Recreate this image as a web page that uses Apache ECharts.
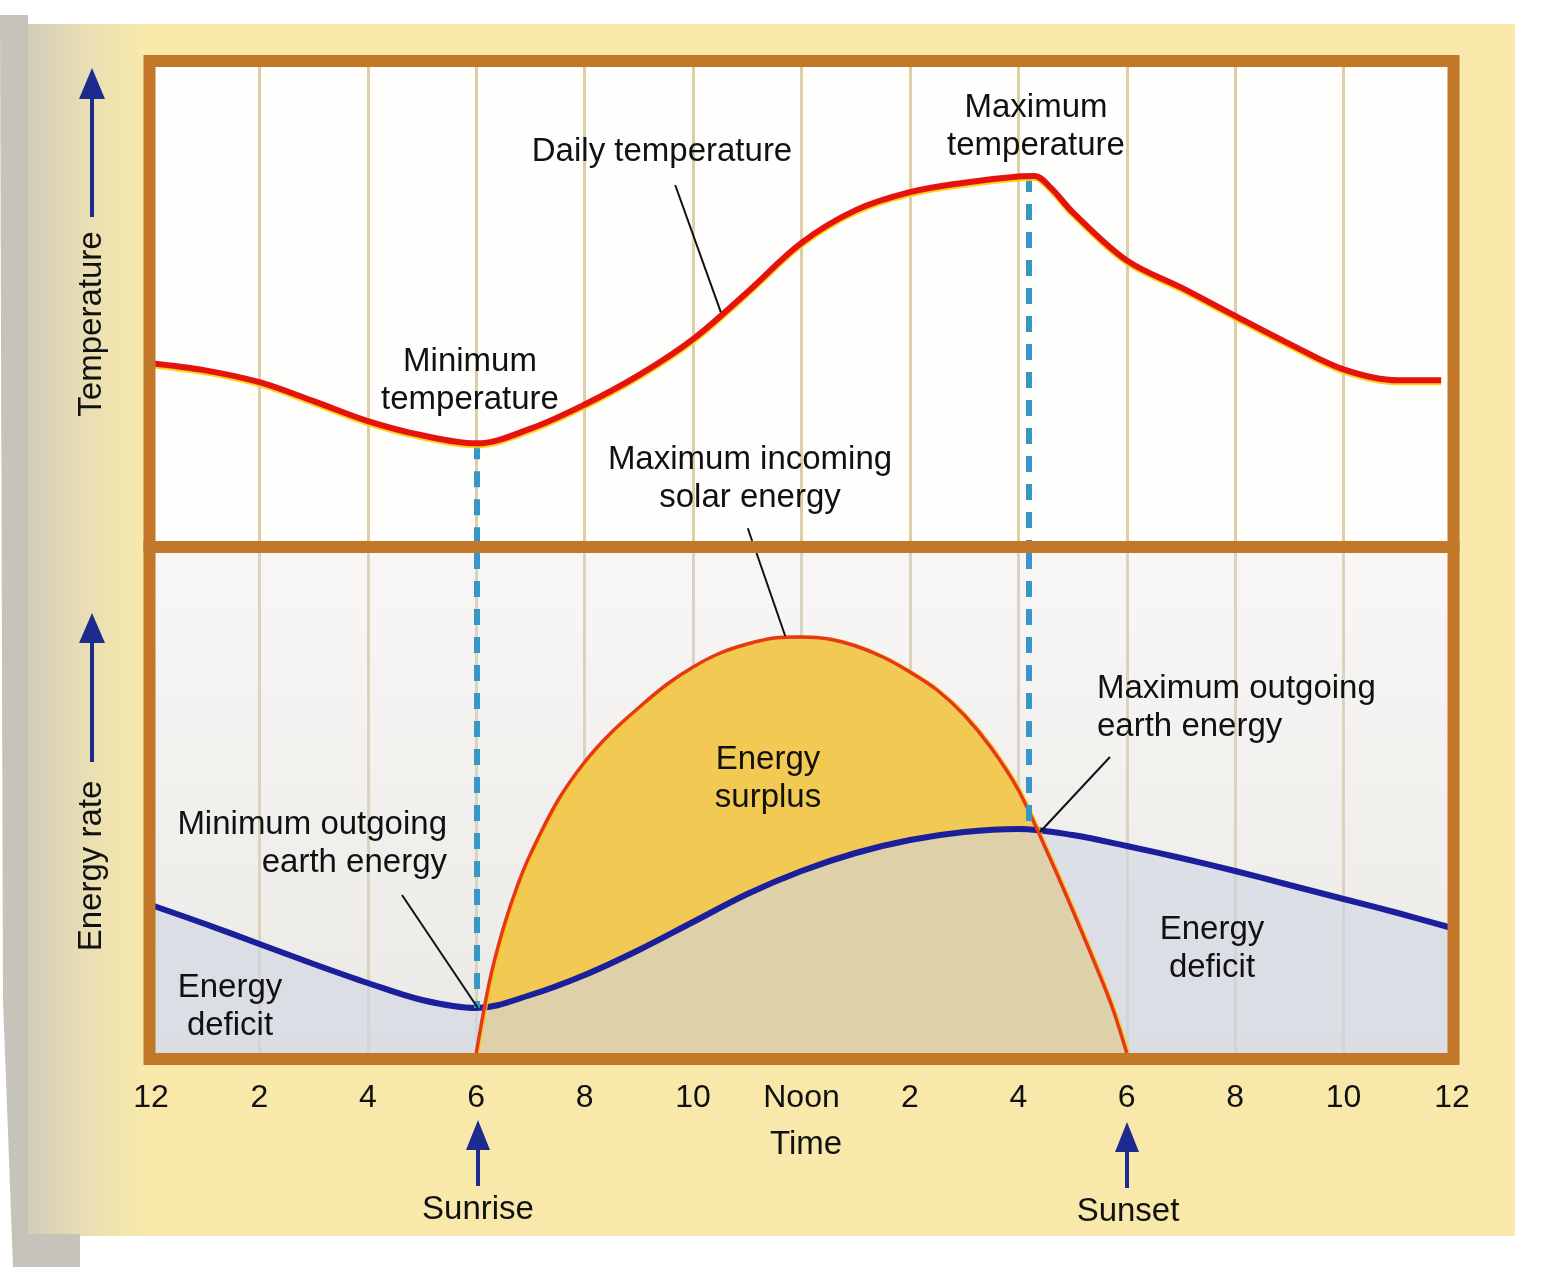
<!DOCTYPE html>
<html><head><meta charset="utf-8">
<script src="https://cdn.jsdelivr.net/npm/echarts/dist/echarts.min.js"></script>
<style>html,body{margin:0;padding:0;background:#fff}#chart{width:1554px;height:1269px}</style>
</head><body><div id="chart"></div>
<script>
// ---- data (hours since midnight; arbitrary 0-100 scale per panel) ----
const tickLabels = ['12','2','4','6','8','10','Noon','2','4','6','8','10','12'];
const tempHours  = [0,1,2,3,4,5,6,7,8,9,10,11,12,13,14,15,16,16.3,16.6,17,18,19,20,21,22,23,23.8];
const tempValues = [37.5,36.0,33.5,29.5,25.3,22.3,20.6,23.7,28.8,35.0,42.6,52.5,62.9,69.8,73.6,75.6,76.9,77.0,74.5,69.4,59.2,53.5,47.5,41.6,36.2,33.9,33.9];
const outHours   = [0,1,2,3,4,5,6,7,8,9,10,11,12,13,14,15,16,17,18,19,20,21,22,23,24];
const outValues  = [29.6,25.8,21.8,17.8,14.0,10.6,9.0,11.6,15.6,20.6,26.2,31.8,36.4,40.0,42.6,44.2,44.8,43.6,41.4,39.0,36.4,33.6,30.8,28.0,25.0];
const solarHours  = [6,6.25,6.5,6.75,7,7.5,8,8.5,9,9.5,10,10.5,11,11.5,12,12.5,13,13.5,14,14.5,15,15.5,16,16.5,17,17.5,17.75,18];
const solarValues = [0,14.6,25.0,33.2,39.8,50.4,58.2,64.2,69.1,73.6,77.2,80.0,81.8,83.0,83.2,82.8,81.4,79.2,76.2,72.6,67.6,61.0,52.6,41.0,28.6,15.6,8.6,0];
const sunriseHour = 6, maxTempHour = 16.2;
const minTempValue = 20.6, maxTempValue = 77.0, minOutValue = 9.0, outAtMaxTemp = 44.7;

const pairs = (xs, ys) => xs.map((x, i) => [x, ys[i]]);
const FONT = '"Liberation Sans", Arial, Helvetica, sans-serif';
const INK = '#111111';
const NAVY = '#1d2a8e';
const FRAME = '#c27828';

const dash = {type: [16, 12], width: 6, color: '#3897c9'};
const leader = {type: 'solid', width: 2, color: '#111'};

function txt(text, x, y, align) {
  return {type: 'text', z: 60, x: x, y: y, silent: true,
    style: {text: text, x: 0, y: 0, fill: INK, fontSize: 33, fontFamily: FONT, lineHeight: 38,
      align: align || 'center', verticalAlign: 'middle', textAlign: align || 'center', textVerticalAlign: 'middle'}};
}
function vtxt(text, x, y) {
  const t = txt(text, x, y); t.rotation = Math.PI / 2; return t;
}
function arrowUp(x, tip, base, end, hw) {
  return [
    {type: 'line', z: 60, shape: {x1: x, y1: base - 2, x2: x, y2: end}, style: {stroke: NAVY, lineWidth: 4}},
    {type: 'polygon', z: 60, shape: {points: [[x, tip], [x - hw, base], [x + hw, base]]}, style: {fill: NAVY}}
  ];
}

const chart = echarts.init(document.getElementById('chart'), null, {renderer: 'canvas'});
const option = {
  animation: false,
  backgroundColor: '#ffffff',
  textStyle: {fontFamily: FONT},
  grid: [
    {left: 151, width: 1301, top: 67, height: 474, show: true, backgroundColor: '#fefefd', borderWidth: 0, outerBoundsMode: 'none'},
    {left: 151, width: 1301, top: 553, height: 500, show: true, borderWidth: 0, outerBoundsMode: 'none',
     backgroundColor: {type: 'linear', x: 0, y: 0, x2: 0, y2: 1, colorStops: [{offset: 0, color: '#f8f7f5'}, {offset: 1, color: '#eae9e6'}]}}
  ],
  xAxis: [
    {gridIndex: 0, type: 'value', min: 0, max: 24, interval: 2,
     axisLine: {show: false}, axisTick: {show: false}, axisLabel: {show: false},
     splitLine: {show: true, lineStyle: {color: '#dccfa6', width: 3}}},
    {gridIndex: 1, type: 'value', min: 0, max: 24, interval: 2,
     axisLine: {show: false}, axisTick: {show: false},
     axisLabel: {show: true, margin: 29, fontSize: 32, color: INK, fontFamily: FONT,
       showMinLabel: true, showMaxLabel: true,
       formatter: v => tickLabels[Math.round(v / 2)]},
     splitLine: {show: true, lineStyle: {color: '#dad3bd', width: 3}}}
  ],
  yAxis: [
    {gridIndex: 0, type: 'value', min: 0, max: 100, show: true, axisLine: {show: false}, axisTick: {show: false}, axisLabel: {show: false}, splitLine: {show: false}},
    {gridIndex: 1, type: 'value', min: 0, max: 100, show: true, axisLine: {show: false}, axisTick: {show: false}, axisLabel: {show: false}, splitLine: {show: false}}
  ],
  series: [
    {name: 'Daily temperature', type: 'line', xAxisIndex: 0, yAxisIndex: 0, z: 5,
     data: pairs(tempHours, tempValues), smooth: 0.35, showSymbol: false, symbol: 'none',
     lineStyle: {color: '#e4140c', width: 6, shadowColor: 'rgba(255,205,0,0.9)', shadowOffsetY: 2, shadowBlur: 0},
     markLine: {silent: true, symbol: ['none', 'none'], label: {show: false}, animation: false,
       data: [
         [{coord: [sunriseHour, minTempValue], lineStyle: dash}, {coord: [sunriseHour, 0]}],
         [{coord: [maxTempHour, maxTempValue], lineStyle: dash}, {coord: [maxTempHour, 0]}],
         [{coord: [9.67, 75.1], lineStyle: leader}, {coord: [10.53, 47.7]}],
         [{coord: [11.01, 2.7], lineStyle: leader}, {coord: [11.09, 0]}]
       ]}},
    {name: 'Incoming solar fill', type: 'line', xAxisIndex: 1, yAxisIndex: 1, z: 2,
     data: pairs(solarHours, solarValues), smooth: 0.3, symbol: 'none',
     lineStyle: {width: 0}, areaStyle: {color: '#f2c952', opacity: 1}},
    {name: 'Outgoing earth energy', type: 'line', xAxisIndex: 1, yAxisIndex: 1, z: 3,
     data: pairs(outHours, outValues), smooth: 0.35, symbol: 'none',
     lineStyle: {color: '#1b1f9c', width: 6},
     areaStyle: {color: 'rgba(208,214,226,0.6)', opacity: 1},
     markLine: {silent: true, symbol: ['none', 'none'], label: {show: false}, animation: false,
       data: [
         [{coord: [sunriseHour, 100], lineStyle: dash}, {coord: [sunriseHour, minOutValue]}],
         [{coord: [maxTempHour, 100], lineStyle: dash}, {coord: [maxTempHour, outAtMaxTemp]}],
         [{coord: [11.17, 100], lineStyle: leader}, {coord: [11.70, 83.4]}],
         [{coord: [17.69, 59.2], lineStyle: leader}, {coord: [16.40, 44.2]}],
         [{coord: [4.63, 31.6], lineStyle: leader}, {coord: [6.03, 9.0]}]
       ]}},
    {name: 'Incoming solar energy', type: 'line', xAxisIndex: 1, yAxisIndex: 1, z: 4,
     data: pairs(solarHours, solarValues), smooth: 0.3, symbol: 'none',
     lineStyle: {color: '#e4381a', width: 3.5, shadowColor: 'rgba(255,200,0,0.8)', shadowOffsetX: 1.5, shadowBlur: 0}}
  ],
  graphic: {elements: [
    {type: 'rect', z: -5, silent: true, shape: {x: 28, y: 24, width: 1487, height: 1212}, style: {fill: '#f8e9ab'}},
    {type: 'rect', z: -4, silent: true, shape: {x: 28, y: 24, width: 117, height: 1212},
     style: {fill: new echarts.graphic.LinearGradient(0, 0, 1, 0, [{offset: 0, color: '#d3ccb8'}, {offset: 0.55, color: '#ebe0b3'}, {offset: 1, color: '#f8e9ab'}])}},
    {type: 'polygon', z: -3, silent: true, shape: {points: [[0, 15], [28, 15], [28, 1234], [80, 1234], [80, 1267], [13, 1267], [3, 1000]]}, style: {fill: '#c6c3ba'}},
    {type: 'rect', z: 50, silent: true, shape: {x: 149.5, y: 61, width: 1304, height: 998}, style: {fill: 'transparent', stroke: FRAME, lineWidth: 12}},
    {type: 'rect', z: 50, silent: true, shape: {x: 143.5, y: 541, width: 1316, height: 12}, style: {fill: FRAME}},
    ...arrowUp(92, 68, 99, 217, 13),
    ...arrowUp(92, 613, 643, 762, 13),
    ...arrowUp(478, 1120, 1150, 1186, 12),
    ...arrowUp(1127, 1122, 1152, 1188, 12),
    vtxt('Temperature', 92, 324),
    vtxt('Energy rate', 92, 866),
    txt('Daily temperature', 662, 152),
    txt('Maximum\ntemperature', 1036, 127),
    txt('Minimum\ntemperature', 470, 381),
    txt('Maximum incoming\nsolar energy', 750, 479),
    txt('Energy\nsurplus', 768, 779),
    txt('Maximum outgoing\nearth energy', 1097, 708, 'left'),
    txt('Minimum outgoing\nearth energy', 447, 844, 'right'),
    txt('Energy\ndeficit', 230, 1007),
    txt('Energy\ndeficit', 1212, 949),
    txt('Time', 806, 1145),
    txt('Sunrise', 478, 1210),
    txt('Sunset', 1128, 1212)
  ]}
};
chart.setOption(option);
</script>
</body></html>
